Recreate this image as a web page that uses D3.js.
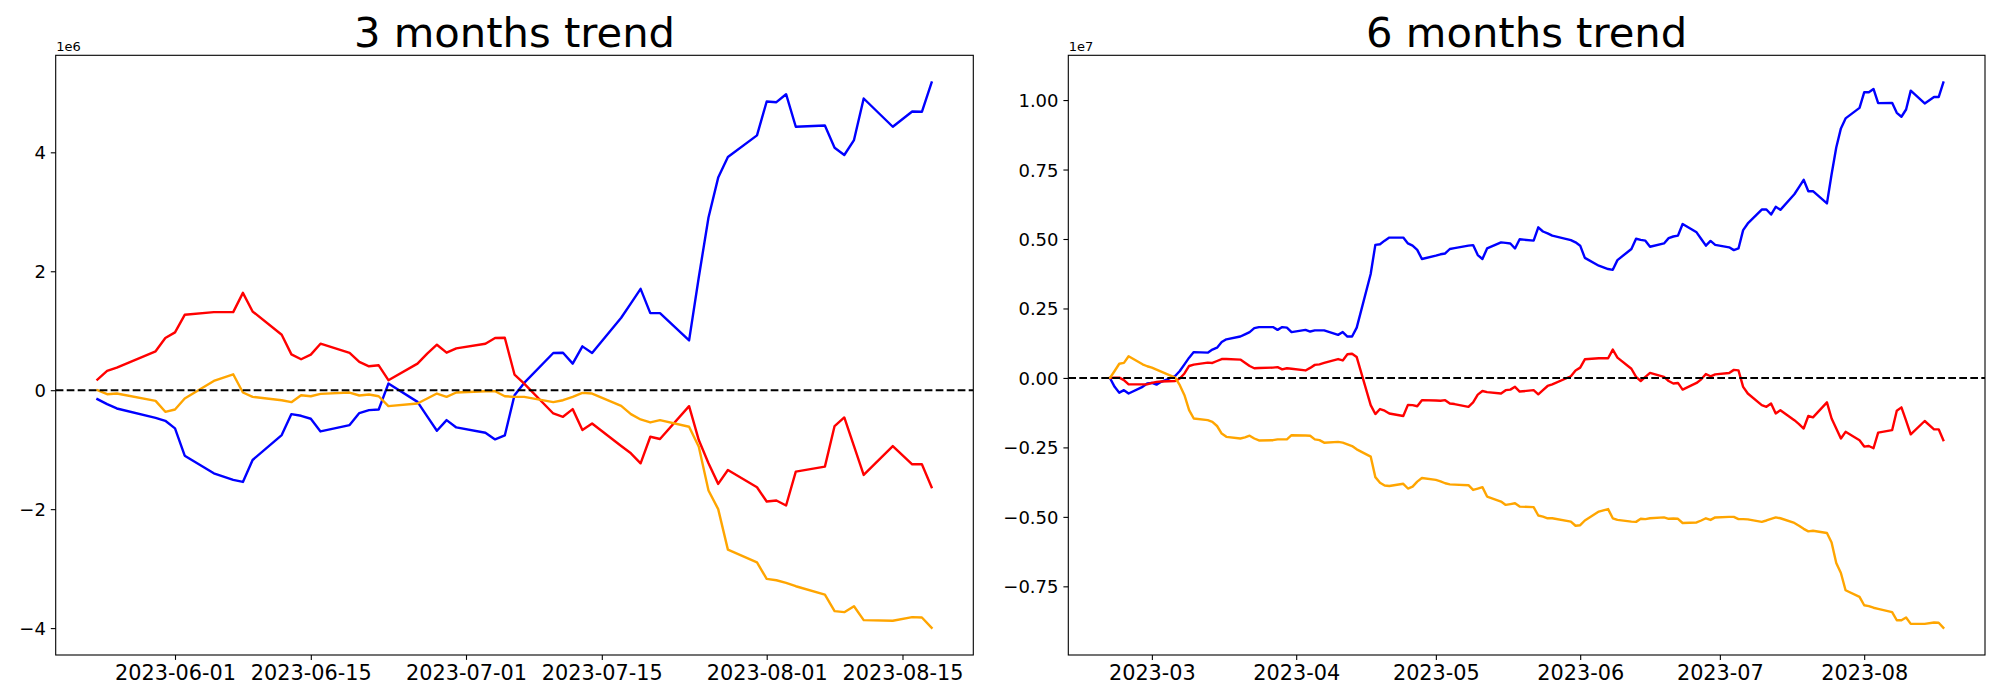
<!DOCTYPE html>
<html>
<head>
<meta charset="utf-8">
<script src="https://cdn.jsdelivr.net/npm/d3@7"></script>
<style>
  body { margin: 0; background: #ffffff; }
  svg { display: block; }
  text { font-family: "DejaVu Sans", sans-serif; fill: #000; }
</style>
</head>
<body>
<svg id="chart" width="2000" height="700"></svg>
<script>
// ---------------- DATA ----------------
const titles = ["3 months trend", "6 months trend"];
const offsetLabels = ["1e6", "1e7"];

const dates3m = ["2023-05-24","2023-05-25","2023-05-26","2023-05-30","2023-05-31",
  "2023-06-01","2023-06-02","2023-06-05","2023-06-07","2023-06-08","2023-06-09","2023-06-12","2023-06-13","2023-06-14","2023-06-15","2023-06-16","2023-06-19","2023-06-20","2023-06-21","2023-06-22","2023-06-23","2023-06-26","2023-06-27","2023-06-28","2023-06-29","2023-06-30",
  "2023-07-03","2023-07-04","2023-07-05","2023-07-06","2023-07-07","2023-07-10","2023-07-11","2023-07-12","2023-07-13","2023-07-14","2023-07-17","2023-07-18","2023-07-19","2023-07-20","2023-07-21","2023-07-24","2023-07-25","2023-07-26","2023-07-27","2023-07-28","2023-07-31",
  "2023-08-01","2023-08-02","2023-08-03","2023-08-04","2023-08-07","2023-08-08","2023-08-09","2023-08-10","2023-08-11","2023-08-14","2023-08-16","2023-08-17","2023-08-18"];

// values in units of 1e6
const blue3m = [-0.151,-0.235,-0.307,-0.464,-0.514,
  -0.642,-1.101,-1.397,-1.508,-1.542,-1.173,-0.754,-0.402,-0.430,-0.480,-0.693,-0.587,-0.385,-0.335,-0.324,0.112,-0.196,-0.44,-0.682,-0.503,-0.626,
  -0.715,-0.827,-0.760,-0.084,0.123,0.626,0.631,0.447,0.737,0.626,1.218,1.46,1.704,1.296,1.296,0.838,1.9,2.905,3.575,3.922,4.285,
  4.855,4.843,4.977,4.43,4.452,4.078,3.955,4.206,4.905,4.43,4.687,4.681,5.173];
const red3m = [0.179,0.324,0.380,0.654,0.877,
  0.972,1.268,1.313,1.313,1.637,1.324,0.933,0.603,0.520,0.598,0.782,0.626,0.475,0.402,0.419,0.168,0.447,0.615,0.765,0.631,0.704,
  0.782,0.877,0.883,0.263,0.112,-0.391,-0.447,-0.318,-0.670,-0.559,-0.939,-1.061,-1.229,-0.782,-0.821,-0.268,-0.838,-1.229,-1.575,-1.341,-1.631,
  -1.872,-1.855,-1.939,-1.369,-1.285,-0.603,-0.458,-0.94,-1.425,-0.939,-1.246,-1.246,-1.631];
const orange3m = [0.0,-0.067,-0.056,-0.179,-0.363,
  -0.324,-0.140,0.156,0.268,-0.039,-0.112,-0.168,-0.201,-0.084,-0.101,-0.061,-0.039,-0.089,-0.073,-0.101,-0.268,-0.223,-0.14,-0.056,-0.112,-0.039,
  -0.017,-0.017,-0.101,-0.112,-0.112,-0.201,-0.168,-0.112,-0.045,-0.056,-0.263,-0.402,-0.492,-0.542,-0.503,-0.615,-0.950,-1.687,-2.0,-2.681,-2.894,
  -3.173,-3.196,-3.24,-3.296,-3.436,-3.715,-3.732,-3.632,-3.866,-3.877,-3.816,-3.821,-3.994];

const dates6m = ["2023-02-20","2023-02-21","2023-02-22","2023-02-23","2023-02-24","2023-02-27","2023-02-28",
  "2023-03-01","2023-03-02","2023-03-03","2023-03-06","2023-03-07","2023-03-08","2023-03-09","2023-03-10","2023-03-13","2023-03-14","2023-03-15","2023-03-16","2023-03-17","2023-03-20","2023-03-21","2023-03-22","2023-03-23","2023-03-24","2023-03-27","2023-03-28","2023-03-29","2023-03-30","2023-03-31",
  "2023-04-03","2023-04-04","2023-04-05","2023-04-06","2023-04-07","2023-04-10","2023-04-11","2023-04-12","2023-04-13","2023-04-14","2023-04-17","2023-04-18","2023-04-19","2023-04-20","2023-04-21","2023-04-24","2023-04-25","2023-04-26","2023-04-27","2023-04-28",
  "2023-05-01","2023-05-02","2023-05-03","2023-05-04","2023-05-05","2023-05-08","2023-05-09","2023-05-10","2023-05-11","2023-05-12","2023-05-15","2023-05-16","2023-05-17","2023-05-18","2023-05-19","2023-05-22","2023-05-23","2023-05-24","2023-05-25","2023-05-26","2023-05-30","2023-05-31",
  "2023-06-01","2023-06-02","2023-06-05","2023-06-07","2023-06-08","2023-06-09","2023-06-12","2023-06-13","2023-06-14","2023-06-15","2023-06-16","2023-06-19","2023-06-20","2023-06-21","2023-06-22","2023-06-23","2023-06-26","2023-06-27","2023-06-28","2023-06-29","2023-06-30",
  "2023-07-03","2023-07-04","2023-07-05","2023-07-06","2023-07-07","2023-07-10","2023-07-11","2023-07-12","2023-07-13","2023-07-14","2023-07-17","2023-07-18","2023-07-19","2023-07-20","2023-07-21","2023-07-24","2023-07-25","2023-07-26","2023-07-27","2023-07-28","2023-07-31",
  "2023-08-01","2023-08-02","2023-08-03","2023-08-04","2023-08-07","2023-08-08","2023-08-09","2023-08-10","2023-08-11","2023-08-14","2023-08-16","2023-08-17","2023-08-18"];

// values in units of 1e7
const blue6m = [0,-0.032,-0.053,-0.044,-0.056,-0.032,-0.020,
  -0.018,-0.024,-0.014,0.007,0.025,0.049,0.073,0.093,0.091,0.102,0.109,0.129,0.139,0.149,0.157,0.165,0.179,0.183,0.183,0.173,0.183,0.181,0.165,
  0.173,0.167,0.171,0.171,0.171,0.155,0.165,0.149,0.149,0.181,0.374,0.479,0.481,0.494,0.505,0.505,0.484,0.476,0.461,0.428,
  0.44,0.445,0.448,0.464,0.467,0.476,0.478,0.442,0.428,0.466,0.488,0.486,0.484,0.466,0.499,0.494,0.542,0.527,0.520,0.512,0.496,0.488,
  0.476,0.432,0.404,0.392,0.389,0.424,0.464,0.501,0.497,0.494,0.472,0.484,0.503,0.509,0.512,0.554,0.524,0.50,0.476,0.493,0.479,
  0.470,0.460,0.466,0.532,0.556,0.606,0.606,0.588,0.616,0.605,0.661,0.687,0.713,0.672,0.672,0.628,0.733,0.829,0.898,0.934,0.972,
  1.028,1.028,1.040,0.989,0.990,0.954,0.940,0.966,1.034,0.988,1.011,1.011,1.063];
const red6m = [0,0.001,0.001,-0.008,-0.023,-0.023,-0.023,
  -0.018,-0.014,-0.013,-0.011,-0.002,0.016,0.043,0.048,0.055,0.054,0.061,0.068,0.068,0.066,0.055,0.043,0.035,0.036,0.037,0.039,0.031,0.035,0.033,
  0.027,0.036,0.047,0.049,0.054,0.068,0.063,0.085,0.087,0.075,-0.098,-0.130,-0.112,-0.118,-0.128,-0.137,-0.097,-0.098,-0.102,-0.080,
  -0.081,-0.082,-0.080,-0.092,-0.094,-0.104,-0.088,-0.060,-0.047,-0.051,-0.056,-0.044,-0.042,-0.032,-0.049,-0.044,-0.059,-0.044,-0.029,-0.023,0.006,0.027,
  0.037,0.067,0.071,0.071,0.102,0.073,0.033,0.004,-0.011,0.004,0.018,0.004,-0.011,-0.020,-0.018,-0.042,-0.018,-0.005,0.014,0.006,0.013,
  0.018,0.029,0.027,-0.032,-0.056,-0.098,-0.104,-0.092,-0.128,-0.116,-0.152,-0.166,-0.182,-0.137,-0.142,-0.088,-0.146,-0.182,-0.218,-0.194,-0.224,
  -0.247,-0.245,-0.253,-0.197,-0.188,-0.118,-0.106,-0.154,-0.203,-0.155,-0.185,-0.185,-0.224];
const orange6m = [0,0.025,0.051,0.054,0.078,0.049,0.042,
  0.037,0.030,0.023,0.001,-0.026,-0.062,-0.116,-0.146,-0.152,-0.158,-0.173,-0.200,-0.212,-0.218,-0.214,-0.208,-0.218,-0.225,-0.224,-0.221,-0.221,-0.221,-0.206,
  -0.207,-0.208,-0.221,-0.224,-0.233,-0.230,-0.233,-0.239,-0.245,-0.257,-0.283,-0.357,-0.377,-0.387,-0.389,-0.381,-0.398,-0.391,-0.373,-0.360,
  -0.367,-0.372,-0.379,-0.383,-0.384,-0.386,-0.403,-0.398,-0.393,-0.427,-0.445,-0.457,-0.454,-0.451,-0.463,-0.465,-0.495,-0.499,-0.505,-0.505,-0.517,-0.532,
  -0.530,-0.513,-0.481,-0.472,-0.505,-0.511,-0.517,-0.518,-0.507,-0.508,-0.505,-0.502,-0.507,-0.506,-0.507,-0.522,-0.520,-0.513,-0.505,-0.511,-0.502,
  -0.500,-0.500,-0.508,-0.508,-0.509,-0.518,-0.513,-0.507,-0.502,-0.505,-0.522,-0.532,-0.543,-0.552,-0.550,-0.558,-0.592,-0.666,-0.702,-0.764,-0.788,
  -0.818,-0.821,-0.827,-0.831,-0.843,-0.872,-0.872,-0.862,-0.885,-0.885,-0.880,-0.881,-0.899];

const xTicks3m = ["2023-06-01","2023-06-15","2023-07-01","2023-07-15","2023-08-01","2023-08-15"];
const xTicks6m = ["2023-03-01","2023-04-01","2023-05-01","2023-06-01","2023-07-01","2023-08-01"];
const yTicks3m = [-4, -2, 0, 2, 4];
const yTicks6m = [-0.75, -0.5, -0.25, 0, 0.25, 0.5, 0.75, 1.0];

// ---------------- DRAWING ----------------
const parse = d3.utcParse("%Y-%m-%d");
const svg = d3.select("#chart");
const seriesColors = ["#0000ff", "#ff0000", "#ffa500"];
const minus = s => s.replace(/-/g, "\u2212");

const panels = [
  { title: titles[0], offset: offsetLabels[0], dates: dates3m, series: [blue3m, red3m, orange3m],
    xTicks: xTicks3m, xFmt: d3.utcFormat("%Y-%m-%d"), yTicks: yTicks3m, yFmt: d3.format(".0f"),
    left: 55.7, right: 973.3 },
  { title: titles[1], offset: offsetLabels[1], dates: dates6m, series: [blue6m, red6m, orange6m],
    xTicks: xTicks6m, xFmt: d3.utcFormat("%Y-%m"), yTicks: yTicks6m, yFmt: d3.format(".2f"),
    left: 1068.3, right: 1985 }
];
const plotTop = 55.3, plotBottom = 655;

panels.forEach((p, pi) => {
  const dts = p.dates.map(parse);
  const [x0, x1] = d3.extent(dts);
  const xpad = (x1 - x0) * 0.05;
  const x = d3.scaleUtc().domain([new Date(+x0 - xpad), new Date(+x1 + xpad)]).range([p.left, p.right]);

  const allV = p.series.flat();
  const [y0, y1] = d3.extent(allV);
  const ypad = (y1 - y0) * 0.05;
  const y = d3.scaleLinear().domain([y0 - ypad, y1 + ypad]).range([plotBottom, plotTop]);

  const g = svg.append("g");
  const clipId = "clip" + pi;
  g.append("clipPath").attr("id", clipId).append("rect")
    .attr("x", p.left).attr("y", plotTop).attr("width", p.right - p.left).attr("height", plotBottom - plotTop);

  const plot = g.append("g").attr("clip-path", `url(#${clipId})`);
  const line = d3.line().x((d, i) => x(dts[i])).y(d => y(d));
  p.series.forEach((s, si) => {
    plot.append("path").datum(s)
      .attr("d", line)
      .attr("fill", "none")
      .attr("stroke", seriesColors[si])
      .attr("stroke-width", 2.4)
      .attr("stroke-linejoin", "round")
      .attr("stroke-linecap", "square");
  });
  // zero reference line
  plot.append("line")
    .attr("x1", p.left).attr("x2", p.right)
    .attr("y1", y(0)).attr("y2", y(0))
    .attr("stroke", "#000").attr("stroke-width", 2.1)
    .attr("stroke-dasharray", "7.7 3.3");

  // axes
  const xAxis = d3.axisBottom(x).tickValues(p.xTicks.map(parse)).tickFormat(p.xFmt)
    .tickSize(4.9).tickSizeOuter(0).tickPadding(4.9);
  const gx = g.append("g").attr("transform", `translate(0,${plotBottom})`).call(xAxis);
  gx.select(".domain").remove();
  gx.selectAll("line").attr("stroke", "#000").attr("stroke-width", 1.1);
  gx.selectAll("text").attr("font-size", "20.8px").attr("font-family", "DejaVu Sans");

  const yAxis = d3.axisLeft(y).tickValues(p.yTicks).tickFormat(v => minus(p.yFmt(v)))
    .tickSize(4.9).tickSizeOuter(0).tickPadding(4.9);
  const gy = g.append("g").attr("transform", `translate(${p.left},0)`).call(yAxis);
  gy.select(".domain").remove();
  gy.selectAll("line").attr("stroke", "#000").attr("stroke-width", 1.1);
  gy.selectAll("text").attr("font-size", "18px").attr("font-family", "DejaVu Sans").attr("dy", "0.36em");

  // frame
  g.append("rect").attr("x", p.left).attr("y", plotTop)
    .attr("width", p.right - p.left).attr("height", plotBottom - plotTop)
    .attr("fill", "none").attr("stroke", "#000").attr("stroke-width", 1.1);

  // offset text
  g.append("text").attr("x", p.left + 0.5).attr("y", 50.5)
    .attr("font-size", "13px").text(p.offset);

  // title
  g.append("text").attr("x", (p.left + p.right) / 2).attr("y", 47)
    .attr("text-anchor", "middle").attr("font-size", "41.7px").text(p.title);
});
</script>
</body>
</html>
